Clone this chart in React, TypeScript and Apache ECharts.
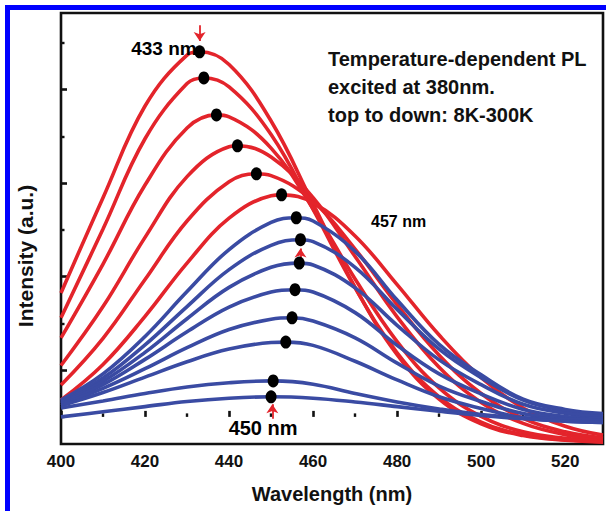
import { useEffect, useRef } from 'react';
import * as echarts from 'echarts';

// Wavelength grid (nm) shared by all spectra
const wavelengths = [400, 410, 420, 430, 440, 450, 460, 470, 480, 490, 500, 510, 520, 529];

// Red spectra (low temperature, top ones)
const red1 = [2.65, 4.69, 6.65, 7.74, 7.54, 6.33, 4.56, 2.77, 1.33, 0.38, -0.15, -0.40, -0.50, -0.54];
const red2 = [2.12, 4.02, 5.95, 7.13, 7.06, 6.04, 4.44, 2.76, 1.37, 0.43, -0.11, -0.38, -0.49, -0.53];
const red3 = [1.69, 3.27, 4.96, 6.18, 6.42, 5.75, 4.45, 2.95, 1.61, 0.62, 0.01, -0.32, -0.46, -0.52];
const red4 = [1.10, 2.36, 3.84, 5.14, 5.78, 5.56, 4.69, 3.43, 2.14, 1.06, 0.31, -0.14, -0.38, -0.48];
const red5 = [0.68, 1.68, 2.94, 4.19, 5.03, 5.16, 4.61, 3.59, 2.40, 1.32, 0.50, -0.03, -0.32, -0.45];
const red6 = [0.36, 1.12, 2.15, 3.29, 4.25, 4.73, 4.58, 3.87, 2.83, 1.75, 0.84, 0.19, -0.20, -0.39];
const redCurves = [red1, red2, red3, red4, red5, red6];
const redPeakNm = [433, 434, 437, 442, 446.5, 452.5];
const redPeakI = [7.81, 7.25, 6.46, 5.80, 5.20, 4.75];

// Blue spectra (higher temperature, lower ones)
const blue1 = [0.36, 0.92, 1.72, 2.68, 3.58, 4.16, 4.19, 3.54, 2.50, 1.55, 0.90, 0.38, 0.16, 0.07];
const blue2 = [0.33, 0.83, 1.54, 2.36, 3.15, 3.67, 3.75, 3.20, 2.30, 1.45, 0.84, 0.36, 0.13, 0.04];
const blue3 = [0.31, 0.76, 1.38, 2.10, 2.77, 3.20, 3.25, 2.76, 1.96, 1.22, 0.69, 0.27, 0.08, 0.00];
const blue4 = [0.29, 0.69, 1.23, 1.82, 2.35, 2.67, 2.67, 2.23, 1.53, 0.92, 0.49, 0.16, 0.01, -0.04];
const blue5 = [0.27, 0.61, 1.03, 1.48, 1.87, 2.09, 2.05, 1.69, 1.15, 0.66, 0.33, 0.07, -0.04, -0.09];
const blue6 = [0.24, 0.52, 0.85, 1.18, 1.45, 1.59, 1.53, 1.19, 0.79, 0.43, 0.18, -0.02, -0.09, -0.12];
const blue7 = [0.19, 0.34, 0.50, 0.64, 0.73, 0.77, 0.70, 0.50, 0.32, 0.17, 0.05, -0.02, -0.05, -0.07];
const blue8 = [0.00, 0.11, 0.22, 0.33, 0.40, 0.43, 0.40, 0.32, 0.22, 0.12, 0.03, -0.04, -0.09, -0.12];
const blueCurves = [blue1, blue2, blue3, blue4, blue5, blue6, blue7, blue8];
const bluePeakNm = [456, 457, 456.7, 455.7, 455, 453.5, 450.5, 450];
const bluePeakI = [4.26, 3.79, 3.29, 2.72, 2.12, 1.60, 0.77, 0.43];

// Axis ticks
const xMajorTicks = [400, 420, 440, 460, 480, 500, 520];
const xMinorTicks = [410, 430, 450, 470, 490, 510];
const yMajorTicks = [1, 3, 5, 7];
const yMinorTicks = [0, 2, 4, 6, 8];

// Annotations
const noteLines = ['Temperature-dependent PL', 'excited at 380nm.', 'top to down: 8K-300K'];
const peakLabels = ['433 nm', '457 nm', '450 nm'];
const peakLabelNm = [432.3, 473.8, 448.1];
const peakLabelI = [7.89, 4.17, -0.24];
const peakLabelPos = ['left', 'right', 'inside'];
const peakLabelSize = [19, 16, 20];
const arrowNm = [433, 457, 450.3];
const arrowFrom = [8.38, 3.36, -0.04];
const arrowTo = [8.04, 3.60, 0.27];

const RED = '#e3242b';
const BLUE = '#3a4ba3';
const FONT = '"Liberation Sans", Arial, Helvetica, sans-serif';

function withPeak(values: number[], pkNm: number, pkI: number) {
  const pts: number[][] = wavelengths.map((w, i) => [w, values[i]]);
  if (!wavelengths.includes(pkNm)) {
    pts.push([pkNm, pkI]);
    pts.sort((a, b) => a[0] - b[0]);
  }
  return pts;
}

export default function App() {
  const ref = useRef<HTMLDivElement>(null);

  useEffect(() => {
    if (!ref.current) return;
    const chart = echarts.init(ref.current, null, { renderer: 'svg' });

    const lineSeries = (curves: number[][], pkNm: number[], pkI: number[], color: string) =>
      curves.map((c, i) => ({
        type: 'line',
        data: withPeak(c, pkNm[i], pkI[i]),
        smooth: 0.4,
        showSymbol: false,
        symbol: 'none',
        lineStyle: { color, width: 3.6, opacity: 1 },
        itemStyle: { color },
        silent: true,
        z: 2,
      }));

    const dots = [
      ...redPeakNm.map((n, i) => [n, redPeakI[i]]),
      ...bluePeakNm.map((n, i) => [n, bluePeakI[i]]),
    ];

    const option: any = {
      animation: false,
      backgroundColor: '#ffffff',
      textStyle: { fontFamily: FONT },
      grid: {
        left: 61,
        top: 13,
        right: 3,
        bottom: 67,
        show: true,
        borderColor: '#111',
        borderWidth: 2.6,
        backgroundColor: 'transparent',
        outerBoundsMode: 'none',
        containLabel: false,
      },
      xAxis: [
        {
          type: 'value',
          min: 400,
          max: 529,
          position: 'bottom',
          axisLine: { show: false },
          splitLine: { show: false },
          axisTick: {
            show: true,
            inside: true,
            length: 6,
            customValues: xMajorTicks,
            lineStyle: { color: '#111', width: 2.6 },
          },
          axisLabel: {
            show: true,
            customValues: xMajorTicks,
            margin: 9,
            color: '#111',
            fontSize: 17,
            fontWeight: 'bold',
            fontFamily: FONT,
          },
          name: 'Wavelength (nm)',
          nameLocation: 'middle',
          nameGap: 40,
          nameTextStyle: { color: '#111', fontSize: 20, fontWeight: 'bold', fontFamily: FONT },
        },
        {
          type: 'value',
          min: 400,
          max: 529,
          position: 'bottom',
          axisLine: { show: false },
          splitLine: { show: false },
          axisLabel: { show: false },
          axisTick: {
            show: true,
            inside: true,
            length: 3.5,
            customValues: xMinorTicks,
            lineStyle: { color: '#111', width: 2.4 },
          },
        },
      ],
      yAxis: [
        {
          type: 'value',
          min: -0.58,
          max: 8.64,
          position: 'left',
          axisLine: { show: false },
          splitLine: { show: false },
          axisLabel: { show: false },
          axisTick: {
            show: true,
            inside: true,
            length: 6,
            customValues: yMajorTicks,
            lineStyle: { color: '#111', width: 2.6 },
          },
        },
        {
          type: 'value',
          min: -0.58,
          max: 8.64,
          position: 'left',
          axisLine: { show: false },
          splitLine: { show: false },
          axisLabel: { show: false },
          axisTick: {
            show: true,
            inside: true,
            length: 3.5,
            customValues: yMinorTicks,
            lineStyle: { color: '#111', width: 2.4 },
          },
        },
      ],
      graphic: [
        { type: 'rect', shape: { x: 6, y: 5, width: 600, height: 5 }, style: { fill: '#0000ff' }, silent: true },
        { type: 'rect', shape: { x: 5, y: 5, width: 5, height: 506 }, style: { fill: '#0000ff' }, silent: true },
        {
          type: 'text',
          x: 25,
          y: 256,
          rotation: Math.PI / 2,
          style: {
            text: 'Intensity (a.u.)',
            font: `bold 21px ${FONT}`,
            fill: '#111',
            align: 'center',
            verticalAlign: 'middle',
          },
          silent: true,
        },
        {
          type: 'text',
          x: 328,
          y: 45,
          style: {
            text: noteLines.join('\n'),
            font: `bold 20px ${FONT}`,
            lineHeight: 28,
            fill: '#111',
            align: 'left',
            verticalAlign: 'top',
          },
          silent: true,
        },
      ],
      series: [
        ...lineSeries(redCurves, redPeakNm, redPeakI, RED),
        ...lineSeries(blueCurves, bluePeakNm, bluePeakI, BLUE),
        {
          type: 'scatter',
          data: dots,
          symbol: 'circle',
          symbolSize: [11, 13],
          itemStyle: { color: '#000000', opacity: 1 },
          silent: true,
          z: 5,
        },
        {
          type: 'scatter',
          symbolSize: 0,
          silent: true,
          z: 6,
          itemStyle: { opacity: 1 },
          markLine: {
            silent: true,
            symbol: ['none', 'arrow'],
            symbolSize: 9,
            label: { show: false },
            lineStyle: { color: RED, width: 1.8, type: 'solid', opacity: 1 },
            itemStyle: { color: RED },
            data: arrowNm.map((n, i) => [
              { coord: [n, arrowFrom[i]] },
              { coord: [n, arrowTo[i]] },
            ]),
          },
          data: peakLabels.map((t, i) => ({
            value: [peakLabelNm[i], peakLabelI[i]],
            label: {
              show: true,
              formatter: t,
              position: peakLabelPos[i],
              distance: 0,
              color: '#000000',
              opacity: 1,
              fontSize: peakLabelSize[i],
              fontWeight: 'bold',
              fontFamily: FONT,
              textBorderWidth: 0,
            },
          })),
        },
      ],
    };

    chart.setOption(option);
    return () => chart.dispose();
  }, []);

  return (
    <div
      ref={ref}
      style={{ position: 'absolute', left: 0, top: 0, width: 606, height: 511, background: '#fff' }}
    />
  );
}
